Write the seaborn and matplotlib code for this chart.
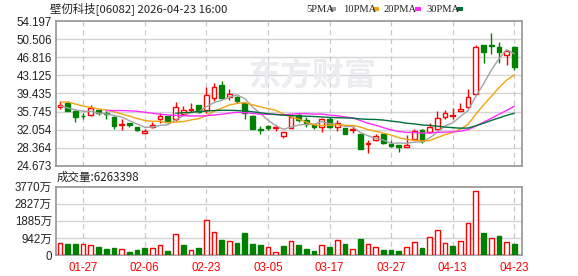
import numpy as np
import matplotlib
matplotlib.use("Agg")
import matplotlib.pyplot as plt
from matplotlib.patches import Rectangle
import seaborn as sns

# ---------------- data ----------------
dates = ["01-22", "01-23", "01-26", "01-27", "01-28", "01-29", "01-30", "02-02", "02-03", "02-04",
         "02-05", "02-06", "02-09", "02-10", "02-11", "02-12", "02-13", "02-16", "02-20", "02-23",
         "02-24", "02-25", "02-26", "02-27", "03-02", "03-03", "03-04", "03-05", "03-06", "03-09",
         "03-10", "03-11", "03-12", "03-13", "03-16", "03-17", "03-18", "03-19", "03-20", "03-23",
         "03-24", "03-25", "03-26", "03-27", "03-30", "03-31", "04-01", "04-02", "04-08", "04-09",
         "04-10", "04-13", "04-14", "04-15", "04-16", "04-17", "04-20", "04-21", "04-22", "04-23"]

open_ = [36.61, 37.56, 35.92, 34.90, 34.97, 36.06, 35.51, 34.63, 33.00, 33.33,
         32.51, 31.29, 32.51, 34.15, 34.83, 34.15, 35.24, 35.99, 37.01, 36.06,
         38.58, 41.17, 38.79, 38.79, 37.42, 34.83, 32.17, 32.79, 32.38, 30.81,
         32.45, 35.04, 34.02, 32.99, 32.51, 34.15, 32.51, 32.38, 31.97, 31.08,
         29.11, 29.93, 31.08, 29.11, 28.90, 28.56, 30.20, 31.97, 31.56, 32.11,
         34.56, 34.90, 35.92, 36.74, 39.26, 49.35, 49.28, 48.87, 47.24, 48.87]
high = [37.90, 37.83, 36.06, 35.38, 37.01, 36.26, 35.92, 34.77, 34.15, 33.47,
        32.65, 32.11, 33.54, 35.38, 34.90, 37.69, 36.88, 37.42, 37.15, 40.69,
        41.65, 42.06, 40.29, 38.92, 37.76, 35.04, 32.86, 33.00, 33.00, 31.63,
        35.04, 35.38, 34.56, 33.20, 34.36, 34.56, 34.02, 32.45, 32.79, 31.22,
        29.93, 31.08, 31.29, 29.93, 28.97, 30.95, 32.11, 32.11, 33.33, 35.86,
        36.06, 36.54, 37.56, 40.29, 49.35, 49.42, 51.74, 49.90, 48.33, 49.15]
low = [36.33, 35.79, 33.67, 34.29, 34.83, 34.97, 34.29, 32.24, 31.97, 32.65,
       31.70, 31.08, 32.31, 33.33, 33.47, 33.88, 34.97, 35.72, 35.51, 35.38,
       37.83, 38.24, 38.10, 37.56, 34.15, 32.17, 31.08, 31.97, 31.83, 30.27,
       32.31, 33.61, 32.65, 32.17, 31.63, 32.31, 31.83, 31.15, 31.29, 28.08,
       27.33, 29.79, 29.11, 28.56, 27.54, 28.49, 29.93, 29.24, 31.29, 31.97,
       34.15, 34.15, 35.79, 36.54, 39.06, 45.74, 47.51, 45.60, 45.26, 44.24]
close = [37.08, 35.92, 34.56, 34.76, 36.54, 35.38, 35.17, 32.86, 33.13, 32.92,
         31.97, 31.77, 32.99, 34.90, 33.67, 36.74, 35.99, 36.20, 35.72, 39.06,
         40.83, 38.44, 39.33, 37.97, 35.38, 32.24, 31.97, 32.45, 32.52, 31.49,
         34.56, 34.02, 33.20, 32.51, 34.15, 32.51, 33.33, 31.22, 32.11, 28.15,
         29.24, 30.74, 29.38, 28.70, 28.56, 28.97, 31.77, 29.79, 32.65, 34.36,
         35.38, 35.04, 36.26, 38.65, 49.01, 47.92, 49.08, 47.92, 48.12, 44.78]

# volume in 万 shares
volume = [644, 607, 607, 588, 552, 441, 331, 386, 331, 166,
          257, 386, 386, 533, 221, 1140, 552, 257, 386, 1931,
          1250, 828, 754, 662, 1214, 607, 552, 441, 147, 497,
          772, 552, 331, 221, 552, 441, 809, 607, 313, 883,
          588, 441, 276, 276, 221, 441, 699, 386, 993, 1361,
          662, 497, 754, 1747, 3531, 1214, 920, 1048, 699, 626]
first_volume_up = True

nan = np.nan
ma5 = [36.90, 36.50, 36.10, 35.80, 35.77, 35.43, 35.28, 34.94, 34.62, 33.89,
       33.21, 32.53, 32.56, 32.91, 33.06, 34.01, 34.86, 35.50, 35.66, 36.74,
       37.56, 38.05, 38.68, 39.13, 38.39, 36.67, 35.38, 34.00, 32.90, 32.12,
       32.58, 32.99, 33.14, 33.16, 33.69, 33.28, 33.14, 32.74, 32.66, 31.46,
       30.81, 30.29, 29.92, 29.24, 29.32, 29.27, 29.48, 29.56, 30.35, 31.51,
       32.79, 33.44, 34.74, 35.94, 38.87, 41.38, 44.18, 46.52, 48.41, 47.56]
ma10 = [37.63, 37.70, 37.29, 36.88, 36.60, 36.26, 36.06, 35.72, 35.24, 34.83,
        34.32, 33.91, 33.75, 33.76, 33.48, 33.61, 33.69, 34.03, 34.29, 34.90,
        35.79, 36.45, 37.09, 37.40, 37.57, 37.12, 36.71, 36.34, 36.01, 35.26,
        34.63, 34.19, 33.57, 33.03, 32.90, 32.93, 33.07, 32.94, 32.91, 32.58,
        32.04, 31.72, 31.33, 30.95, 30.39, 30.04, 29.88, 29.74, 29.80, 30.42,
        31.03, 31.46, 32.15, 33.14, 35.19, 37.08, 38.81, 40.63, 42.17, 43.22]
ma20 = [nan, nan, nan, nan, nan, nan, 35.95, 35.95, 35.95, 35.90,
        35.80, 35.60, 35.40, 35.20, 35.05, 34.95, 34.90, 34.85, 34.85, 34.87,
        35.05, 35.18, 35.42, 35.58, 35.52, 35.36, 35.20, 35.18, 35.15, 35.08,
        35.21, 35.32, 35.33, 35.21, 35.24, 35.02, 34.89, 34.64, 34.46, 33.92,
        33.34, 32.95, 32.45, 31.99, 31.65, 31.49, 31.48, 31.34, 31.35, 31.50,
        31.54, 31.59, 31.74, 32.05, 32.79, 33.56, 34.35, 35.18, 35.98, 36.82]
ma30 = [nan, nan, nan, nan, nan, nan, nan, nan, nan, nan,
        nan, nan, nan, nan, nan, 35.40, 35.50, 35.60, 35.75, 35.85,
        35.95, 36.00, 36.00, 35.95, 35.85, 35.70, 35.50, 35.30, 35.15, 35.00,
        34.91, 34.85, 34.80, 34.73, 34.65, 34.55, 34.49, 34.44, 34.40, 34.24,
        34.15, 34.12, 34.00, 33.79, 33.62, 33.36, 33.22, 33.01, 32.91, 32.75,
        32.57, 32.45, 32.35, 32.37, 32.83, 33.35, 33.92, 34.44, 34.96, 35.40]

price_ticks = [24.673, 28.364, 32.054, 35.745, 39.435, 43.125, 46.816, 50.506, 54.197]
vol_ticks = [0, 942, 1885, 2827, 3770]
vol_tick_labels = ["0", "942万", "1885万", "2827万", "3770万"]
date_ticks = ["01-27", "02-06", "02-23", "03-05", "03-17", "03-27", "04-13", "04-23"]
ma_names = ["5PMA", "10PMA", "20PMA", "30PMA"]
ma_colors = ["#a3a3a3", "#f2a30f", "#ff2cff", "#00703a"]

title = "壁仞科技[06082] 2026-04-23 16:00"
vol_title = "成交量:6263398"

# ---------------- styling ----------------
sns.set_style("white")
plt.rcParams["font.family"] = ["Liberation Sans", "Noto Sans CJK SC", "DejaVu Sans"]
cjk = ["Noto Sans CJK SC", "DejaVu Sans"]

RED = "#ff0000"
GREEN = "#008000"
GRID = "#d4d4d4"
SPINE = "#9c9c9c"
TXT = "#222222"

W, H = 578, 276
fig = plt.figure(figsize=(W / 100, H / 100), dpi=100)

def fx(px):
    return px / W

def fy(py):
    return 1 - py / H

L, R = 56, 522
ax = fig.add_axes([fx(L), fy(165.7), fx(R - L), (165.7 - 21.3) / H])
axv = fig.add_axes([fx(L), fy(255), fx(R - L), (255 - 186.7) / H])

idx = np.arange(len(dates))
o = np.array(open_); c = np.array(close); hi = np.array(high); lo = np.array(low)
up = c >= o
xlim = (-0.52, 60.0)
bw = 0.62

# ---------------- main (price) panel ----------------
ax.set_xlim(*xlim)
ax.set_ylim(price_ticks[0], price_ticks[-1])
for t in price_ticks[1:-1]:
    ax.axhline(t, color=GRID, lw=1.0, zorder=0)
tick_pos = [dates.index(d) for d in date_ticks]
for p in tick_pos:
    ax.axvline(p, color="#c8c8c8", lw=0.9, ls=(0, (4, 3)), zorder=0)
    axv.axvline(p, color="#c8c8c8", lw=0.9, ls=(0, (4, 3)), zorder=0)

ax.text(0.55, 0.62, "东方财富", transform=ax.transAxes, ha="center", va="center",
        fontsize=23, fontweight="bold", color="#ececf0", family=cjk, zorder=0.5)

cols = np.where(up, RED, GREEN)
ax.vlines(idx, lo, hi, colors=cols, lw=1.0, zorder=2)
body_h = np.maximum(np.abs(c - o), 0.02)
body_b = np.minimum(o, c)
ax.bar(idx[up], body_h[up], bottom=body_b[up], width=bw, facecolor="white",
       edgecolor=RED, linewidth=1.0, zorder=3)
ax.bar(idx[~up], body_h[~up], bottom=body_b[~up], width=bw, facecolor=GREEN,
       edgecolor=GREEN, linewidth=1.0, zorder=3)

for ma, col in zip([ma5, ma10, ma20, ma30], ma_colors):
    sns.lineplot(x=idx, y=np.array(ma, dtype=float), color=col, lw=1.0, ax=ax,
                 zorder=4, legend=False)

ax.set_yticks(price_ticks)
ax.set_yticklabels([f"{t:.3f}" for t in price_ticks], fontsize=8.3, color=TXT)
ax.set_xticks([])
ax.set_xlabel(""); ax.set_ylabel("")
ax.tick_params(axis="y", length=0, pad=3)

# ---------------- volume panel ----------------
vol = np.array(volume, dtype=float)
vup = np.r_[first_volume_up, np.diff(c) > 0]
axv.set_xlim(*xlim)
axv.set_ylim(0, vol_ticks[-1])
for t in vol_ticks[1:-1]:
    axv.axhline(t, color=GRID, lw=1.0, zorder=0)
axv.bar(idx[vup], vol[vup], width=bw, facecolor="white", edgecolor=RED, linewidth=1.0, zorder=3)
axv.bar(idx[~vup], vol[~vup], width=bw, facecolor=GREEN, edgecolor=GREEN, linewidth=1.0, zorder=3)
axv.set_yticks(vol_ticks)
axv.set_yticklabels(vol_tick_labels, fontsize=8.3, color=TXT)
axv.set_xticks(tick_pos)
axv.set_xticklabels(date_ticks, fontsize=8.3, color=RED)
axv.tick_params(axis="both", length=0, pad=3)
axv.tick_params(axis="x", pad=5)
axv.set_xlabel(""); axv.set_ylabel("")

for a in (ax, axv):
    for s in a.spines.values():
        s.set_color(SPINE)
        s.set_linewidth(1.3)
        s.set_visible(True)

# ---------------- header texts / legend ----------------
fig.text(fx(50), fy(9), title, ha="left", va="center", fontsize=8.2, color=TXT, family=cjk)
fig.text(fx(57), fy(177.5), vol_title, ha="left", va="center", fontsize=8.3, color=TXT, family=cjk)

leg_x = [306, 343, 384, 426]
sq_x = [330, 373, 415, 457]
for name, col, tx, sx in zip(ma_names, ma_colors, leg_x, sq_x):
    fig.text(fx(tx), fy(9), name, ha="left", va="center", fontsize=7.6, color=TXT,
             family=["Liberation Serif", "DejaVu Serif"])
    fig.patches.append(Rectangle((fx(sx), fy(11)), fx(6), 4 / H, transform=fig.transFigure,
                                 facecolor=col, edgecolor="none"))

fig.savefig("out.png", dpi=100)
